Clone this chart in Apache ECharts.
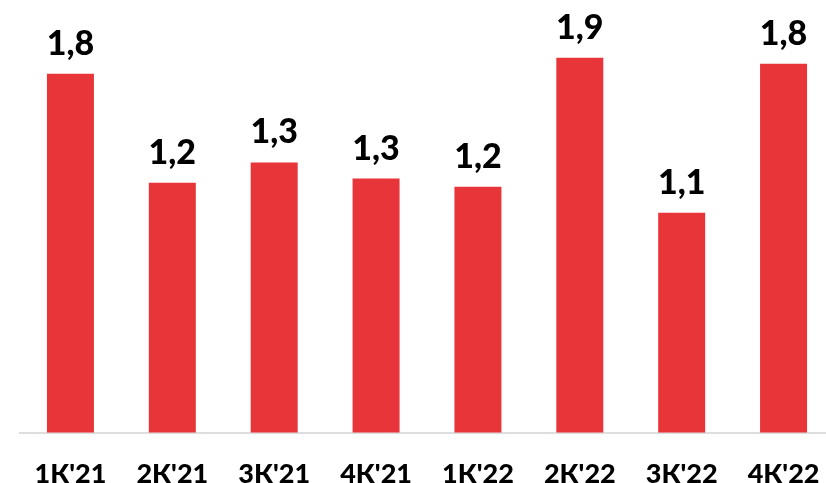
<!DOCTYPE html>
<html>
<head>
<meta charset="utf-8">
<script src="https://cdn.jsdelivr.net/npm/echarts@6/dist/echarts.min.js"></script>
<style>
  html, body { margin: 0; padding: 0; background: #fff; }
  #chart { width: 826px; height: 483px; }
</style>
</head>
<body>
<div id="chart"></div>
<script>
// Quarterly values
const quarters = ["1К'21", "2К'21", "3К'21", "4К'21", "1К'22", "2К'22", "3К'22", "4К'22"];
const values = [1.78, 1.24, 1.34, 1.26, 1.22, 1.86, 1.09, 1.83];

const FONT = 'Lato';
const chart = echarts.init(document.getElementById('chart'), null, { renderer: 'canvas' });

chart.setOption({
  animation: false,
  backgroundColor: '#ffffff',
  // plot area runs a little past the right edge of the canvas
  grid: { left: 19.5, width: 815, top: 29.5, bottom: 50.5, outerBoundsMode: 'none', containLabel: false },
  xAxis: {
    type: 'category',
    data: quarters,
    axisLine: { show: true, lineStyle: { color: '#d4d4d4', width: 1.5 } },
    axisTick: { show: false },
    axisLabel: {
      color: '#000',
      fontFamily: FONT,
      fontWeight: 900,
      fontSize: 27,
      margin: 28.5
    }
  },
  yAxis: {
    type: 'value',
    min: 0,
    max: 2,
    show: false,
    splitLine: { show: false }
  },
  series: [{
    type: 'bar',
    data: values,
    barWidth: 47,
    itemStyle: { color: '#e73539' },
    label: {
      show: true,
      position: 'top',
      distance: 13,
      color: '#000',
      fontFamily: FONT,
      fontWeight: 900,
      fontSize: 34,
      formatter: p => p.value.toFixed(1).replace('.', ',')
    }
  }]
});
</script>
</body>
</html>
